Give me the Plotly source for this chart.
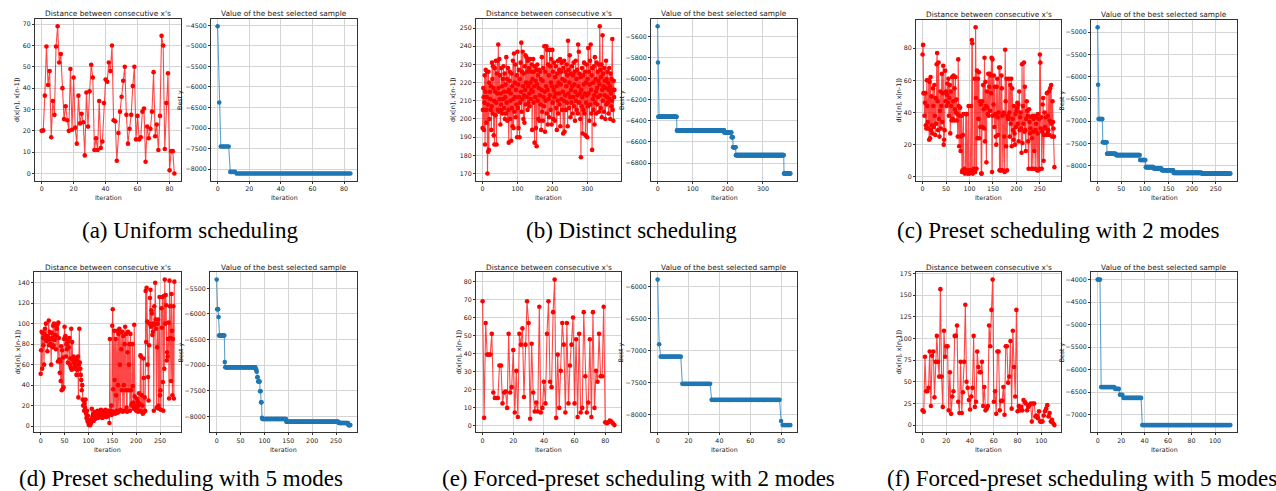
import plotly.graph_objects as go

W, H = 1276, 491

# ---------------- data ----------------
a_dist = [20, 20.2, 36.5, 59.5, 41.5, 48, 17, 34, 27.5, 59.5, 69, 52, 56, 40, 25.5, 31.5, 25, 20, 49, 20.5,
          45, 21.5, 14, 36.5, 23.5, 28, 24, 8.5, 38, 22, 38.5, 51, 45, 11, 16.5, 11, 34, 12, 15, 33,
          44, 43, 52, 48, 60, 25, 24.5, 6, 19, 29, 36, 43.5, 50, 27.5, 14, 21, 27.5, 41, 50, 16,
          27, 16, 17, 29, 30.5, 5.5, 22, 16.5, 21, 29, 47.5, 17.5, 23, 11, 27, 64.5, 60, 11.5, 33, 47,
          1.5, 10.5, 10.5, 0]
a_best_levels = [-4520, -6380, -7450, -8070, -8110]
a_best_counts = [1, 1, 6, 4, 73]

b_dist = [195, 205, 217, 212, 194, 209, 224, 186, 215, 227, 205, 198, 212, 226, 170, 208, 182, 226, 183, 220,
          200, 215, 211, 205, 218, 194, 207, 231, 222, 203, 229, 217, 191, 210, 186, 228, 215, 202, 232, 209,
          186, 225, 214, 232, 205, 241, 217, 204, 233, 211, 224, 197, 214, 208, 228, 205, 218, 203, 222, 211,
          229, 206, 215, 225, 200, 212, 219, 203, 234, 209, 222, 199, 215, 228, 205, 187, 216, 221, 226, 200,
          210, 214, 188, 225, 206, 218, 196, 232, 211, 195, 236, 204, 220, 212, 230, 201, 216, 208, 224, 190,
          237, 206, 219, 195, 227, 212, 190, 222, 209, 231, 215, 242, 204, 226, 211, 237, 218, 200, 225, 213,
          198, 229, 216, 235, 208, 220, 234, 212, 226, 205, 232, 218, 209, 228, 214, 207, 233, 220, 211, 226,
          216, 230, 194, 222, 215, 233, 209, 226, 218, 187, 229, 212, 221, 195, 227, 185, 219, 230, 210, 224,
          200, 217, 227, 199, 213, 226, 208, 222, 194, 216, 234, 204, 221, 199, 228, 212, 207, 240, 215, 193,
          226, 210, 218, 240, 203, 238, 216, 197, 230, 211, 224, 201, 238, 213, 229, 205, 220, 233, 197, 218,
          238, 209, 226, 200, 216, 231, 212, 199, 223, 214, 229, 206, 218, 194, 225, 210, 232, 203, 220, 214,
          227, 208, 233, 196, 219, 226, 211, 231, 205, 222, 215, 192, 228, 210, 232, 193, 221, 213, 226, 205,
          218, 230, 209, 224, 196, 243, 214, 227, 206, 220, 235, 212, 201, 225, 216, 209, 229, 218, 203, 224,
          212, 231, 207, 219, 226, 199, 215, 232, 210, 222, 205, 227, 213, 203, 241, 218, 237, 209, 225, 214,
          200, 223, 179, 216, 207, 228, 212, 192, 224, 205, 219, 231, 203, 214, 226, 191, 220, 209, 230, 213,
          190, 222, 207, 239, 214, 226, 199, 219, 232, 208, 241, 216, 203, 224, 183, 228, 211, 220, 205, 229,
          213, 197, 234, 209, 222, 215, 203, 231, 217, 208, 226, 212, 221, 230, 204, 219, 251, 213, 227, 206,
          223, 230, 201, 216, 246, 210, 225, 218, 204, 228, 213, 221, 200, 217, 232, 208, 222, 212, 226, 209,
          220, 203, 216, 228, 211, 218, 200, 225, 214, 207, 222, 210, 244, 205, 216, 199, 221, 212, 216]
b_best_levels = [-5500, -5845, -6360, -6490, -6510, -6555, -6650, -6725, -6900]
b_best_counts = [1, 1, 53, 135, 21, 4, 8, 137, 19]

c_dist = [76, 82, 52, 52, 38, 46, 52, 32, 30, 60, 44, 34, 30, 60, 23, 59, 24, 62, 29, 50,
          32, 27, 55, 44, 31, 57, 38, 26, 49, 33, 70, 77, 47, 29, 71, 36, 25, 41, 53, 30,
          44, 64, 34, 52, 69, 20, 23, 29, 66, 47, 53, 44, 51, 58, 46, 61, 38, 49, 57, 27,
          53, 44, 35, 62, 36, 47, 63, 35, 55, 42, 62, 40, 48, 35, 39, 25, 73, 44, 19, 38,
          43, 16, 25, 38, 3, 4, 26, 39, 3, 5, 2, 4, 39, 3, 39, 3, 2, 4, 44, 3,
          2, 4, 3, 44, 3, 85, 83, 2, 4, 5, 3, 61, 3, 93, 49, 5, 66, 24, 61, 36,
          65, 24, 47, 31, 45, 2, 2, 47, 31, 57, 42, 30, 74, 22, 59, 44, 9, 53, 43, 39,
          64, 38, 56, 64, 41, 63, 52, 74, 3, 73, 38, 45, 63, 31, 56, 39, 25, 20, 56, 61,
          37, 26, 40, 68, 4, 68, 4, 4, 63, 55, 38, 4, 39, 40, 25, 3, 79, 47, 19, 61,
          4, 38, 36, 37, 61, 40, 25, 57, 33, 61, 19, 55, 36, 29, 23, 44, 27, 20, 39, 31,
          41, 43, 46, 33, 45, 22, 53, 29, 37, 40, 30, 15, 70, 21, 44, 33, 71, 28, 56, 29,
          16, 36, 47, 41, 38, 22, 5, 42, 34, 27, 30, 37, 5, 24, 38, 5, 28, 36, 16, 38,
          5, 29, 33, 37, 4, 27, 39, 4, 36, 5, 76, 71, 30, 37, 5, 28, 45, 49, 10, 26,
          40, 31, 30, 37, 26, 52, 27, 38, 29, 53, 26, 35, 55, 34, 57, 33, 25, 47, 34, 30,
          25, 6]
c_best_levels = [-4890, -6180, -6950, -7470, -7730, -7760, -7870, -8030, -8060, -8100, -8160, -8175]
c_best_counts = [1, 1, 9, 9, 19, 51, 12, 17, 17, 25, 60, 61]

d_dist = [51, 74, 92, 56, 91, 86, 79, 60, 90, 95, 85, 100, 83, 87, 73, 88, 84, 103, 79, 92,
          80, 85, 60, 91, 86, 77, 98, 79, 100, 84, 89, 99, 75, 88, 95, 99, 63, 101, 86, 65,
          52, 63, 44, 78, 35, 74, 36, 67, 38, 85, 97, 87, 88, 68, 80, 75, 84, 62, 83, 77,
          86, 60, 66, 57, 95, 55, 82, 65, 56, 68, 62, 58, 60, 66, 56, 50, 64, 55, 68, 28,
          60, 95, 62, 56, 50, 45, 35, 40, 26, 20, 25, 15, 22, 18, 26, 12, 8, 15, 5, 10,
          3, 1, 2, 6, 1, 3, 4, 17, 8, 10, 12, 5, 9, 14, 7, 11, 10, 13, 9, 15,
          8, 12, 10, 14, 9, 11, 16, 10, 13, 8, 12, 15, 9, 11, 14, 10, 16, 12, 9, 13,
          11, 15, 10, 13, 3, 85, 12, 15, 20, 11, 98, 114, 36, 14, 93, 45, 12, 85, 30, 15,
          93, 13, 40, 90, 14, 95, 60, 16, 92, 75, 35, 92, 14, 88, 40, 15, 80, 97, 35, 90,
          18, 14, 72, 92, 35, 60, 80, 15, 90, 35, 20, 22, 80, 39, 23, 17, 99, 29, 18, 20,
          15, 27, 18, 24, 14, 20, 32, 22, 15, 69, 68, 14, 30, 20, 12, 66, 47, 14, 28, 15,
          132, 82, 135, 102, 60, 48, 25, 79, 100, 125, 133, 97, 113, 110, 89, 92, 100, 15, 117, 99,
          140, 104, 95, 18, 77, 100, 104, 20, 17, 126, 30, 35, 16, 115, 96, 126, 43, 15, 127, 56,
          143, 100, 128, 118, 64, 72, 68, 85, 101, 27, 142, 117, 86, 44, 129, 93, 30, 85, 117, 27,
          141]
d_best_levels = [-5330, -5910, -6060, -6420, -6940, -7040, -7086, -7090, -7130, -7236, -7320, -7510, -7726,
                 -8026, -8052, -8104, -8130, -8170]
d_best_counts = [1, 3, 1, 12, 1, 64, 1, 1, 1, 2, 4, 2, 2, 1, 50, 110, 20, 5]

e_dist = [69, 4.5, 57, 39.5, 39.5, 39.5, 51, 18.5, 15.5, 15.5, 15.5, 33.5, 33.5, 12.5, 18.5, 19, 10, 51, 18.5, 21.5,
          42, 7.5, 30.5, 5, 51, 45, 54, 16, 45, 69, 57, 4, 45.5, 18.5, 8, 13, 8, 66, 7.5, 10,
          24.5, 12.5, 51, 69, 24.5, 21.5, 63, 81, 4.5, 39.5, 10, 30.5, 57, 45, 7.5, 57, 12.5, 33.5, 45, 60,
          12.5, 48, 5, 51, 7.5, 10, 63, 27.5, 7.5, 13, 48, 5, 63, 10, 30.5, 24.5, 51, 27.5, 27.5, 66,
          2, 1.5, 2, 3, 2.5, 1.5, 0.5]
e_best_levels = [-5890, -6900, -7095, -7520, -7770, -8100, -8165]
e_best_counts = [1, 1, 14, 19, 45, 1, 6]

f_dist = [17, 15.5, 79, 39, 39, 43, 85, 22, 80, 85, 32, 73, 103, 73, 56, 157, 56, 21, 109, 79,
          91, 91, 17, 61, 13, 33, 39, 103, 103, 115, 27, 14, 73, 14, 38, 73, 139, 50, 43, 29,
          18, 33, 43, 103, 21, 27, 85, 67, 61, 61, 73, 22, 44, 17, 19, 22, 115, 91, 133, 168,
          27, 39, 13, 85, 85, 17, 28, 28, 44, 12, 91, 91, 49, 56, 97, 19, 109, 67, 33, 133,
          16, 22, 17, 21, 17, 29, 27, 25, 17, 21, 23, 25, 4, 25, 25, 10, 11, 8, 16, 4,
          4, 4, 11, 16, 19, 23, 10, 14, 4, 6, 2, 0]
f_best_levels = [-4000, -6390, -6430, -6560, -6630, -7235]
f_best_counts = [3, 12, 4, 3, 16, 76]

captions = ["(a) Uniform scheduling", "(b) Distinct scheduling", "(c) Preset scheduling with 2 modes",
            "(d) Preset scheduling with 5 modes", "(e) Forced-preset scheduling with 2 modes",
            "(f) Forced-preset scheduling with 5 modes"]
left_title = "Distance between consecutive x's"
right_title = "Value of the best selected sample"
left_ylabel = "d(x[n], x[n-1])"
right_ylabel = "Best y"
xlabel = "Iteration"


def expand(levels, counts):
    out = []
    for v, c in zip(levels, counts):
        out += [v] * c
    return out


# ---------------- layout specs (pixel boxes) ----------------
# (series, is_best, box(l, r, t, b), xdtick, ydtick, ylabel_x_px)
panels = [
    (a_dist, False, (35, 181, 16, 179), 20, 10, 17),
    (expand(a_best_levels, a_best_counts), True, (211, 357, 16, 179), 20, 500, 180),
    (b_dist, False, (476, 621, 16, 179), 100, 10, 453),
    (expand(b_best_levels, b_best_counts), True, (651, 797, 16, 179), 100, 200, 622),
    (c_dist, False, (916, 1061, 17, 179), 50, 20, 898),
    (expand(c_best_levels, c_best_counts), True, (1091, 1237, 17, 179), 50, 500, 1062),
    (d_dist, False, (34, 181, 271, 432), 50, 20, 17),
    (expand(d_best_levels, d_best_counts), True, (210, 357, 271, 432), 50, 500, 181),
    (e_dist, False, (476, 621, 271, 432), 20, 10, 458),
    (expand(e_best_levels, e_best_counts), True, (651, 797, 271, 432), 20, 500, 621),
    (f_dist, False, (916, 1061, 271, 432), 20, 25, 898),
    (expand(f_best_levels, f_best_counts), True, (1091, 1237, 271, 432), 20, 500, 1062),
]

fig = go.Figure()
annotations = []
TXT = "#1a1a1a"
FONT = "DejaVu Sans"
TICK = 6.3

for i, (ys, is_best, box, xd, yd, ylx) in enumerate(panels):
    k = "" if i == 0 else str(i + 1)
    xs = list(range(len(ys)))
    if is_best:
        line = dict(color="rgba(31,119,180,0.7)", width=1.1)
        mk = dict(color="#1f77b4", size=4.6)
    else:
        line = dict(color="rgba(255,0,0,0.72)", width=1.1)
        mk = dict(color="#ff0000", size=4.6)
    fig.add_trace(go.Scatter(x=xs, y=ys, mode="lines+markers", line=line, marker=mk,
                             xaxis="x" + k, yaxis="y" + k, showlegend=False, hoverinfo="skip"))
    l, r, t, b = box
    ymin, ymax = min(ys), max(ys)
    ypad = 0.05 * (ymax - ymin)
    xpad = 0.05 * (len(ys) - 1)
    common = dict(showline=True, mirror=True, linecolor="#333333", linewidth=0.8,
                  ticks="outside", ticklen=2, tickwidth=0.7, tickcolor="#333333",
                  tickfont=dict(family=FONT, size=TICK, color=TXT),
                  showgrid=True, gridcolor="#d4d4d4", gridwidth=0.8, zeroline=False,
                  tickmode="linear", tick0=0, fixedrange=True)
    fig.layout["xaxis" + k] = dict(common, domain=[l / W, r / W], anchor="y" + k,
                                   range=[-xpad, len(ys) - 1 + xpad], dtick=xd)
    fig.layout["yaxis" + k] = dict(common, domain=[1 - b / H, 1 - t / H], anchor="x" + k,
                                   range=[ymin - ypad, ymax + ypad], dtick=yd)
    # title
    annotations.append(dict(text=right_title if is_best else left_title, x=(l + r) / 2 / W,
                            y=1 - (t - 5) / H, xref="paper", yref="paper", xanchor="center",
                            yanchor="middle", showarrow=False,
                            font=dict(family=FONT, size=7.4, color=TXT)))
    # x label
    annotations.append(dict(text=xlabel, x=(l + r) / 2 / W, y=1 - (b + 17) / H, xref="paper",
                            yref="paper", xanchor="center", yanchor="middle", showarrow=False,
                            font=dict(family=FONT, size=TICK, color=TXT)))
    # y label
    annotations.append(dict(text=right_ylabel if is_best else left_ylabel, x=ylx / W,
                            y=1 - (t + b) / 2 / H, xref="paper", yref="paper", xanchor="center",
                            yanchor="middle", textangle=-90, showarrow=False,
                            font=dict(family=FONT, size=TICK, color=TXT)))

cap_pos = [(190, 229), (631, 229), (1058, 229), (181, 478), (638, 478), (1082, 478)]
for txt, (cx, cy) in zip(captions, cap_pos):
    annotations.append(dict(text=txt, x=cx / W, y=1 - cy / H, xref="paper", yref="paper",
                            xanchor="center", yanchor="middle", showarrow=False,
                            font=dict(family="Liberation Serif", size=23, color="black")))

fig.update_layout(width=W, height=H, margin=dict(l=0, r=0, t=0, b=0),
                  paper_bgcolor="white", plot_bgcolor="white", annotations=annotations,
                  showlegend=False)

fig.write_html("out.html", config={"displayModeBar": False},
               post_script="document.body.style.margin='0';document.body.style.overflow='hidden';")
